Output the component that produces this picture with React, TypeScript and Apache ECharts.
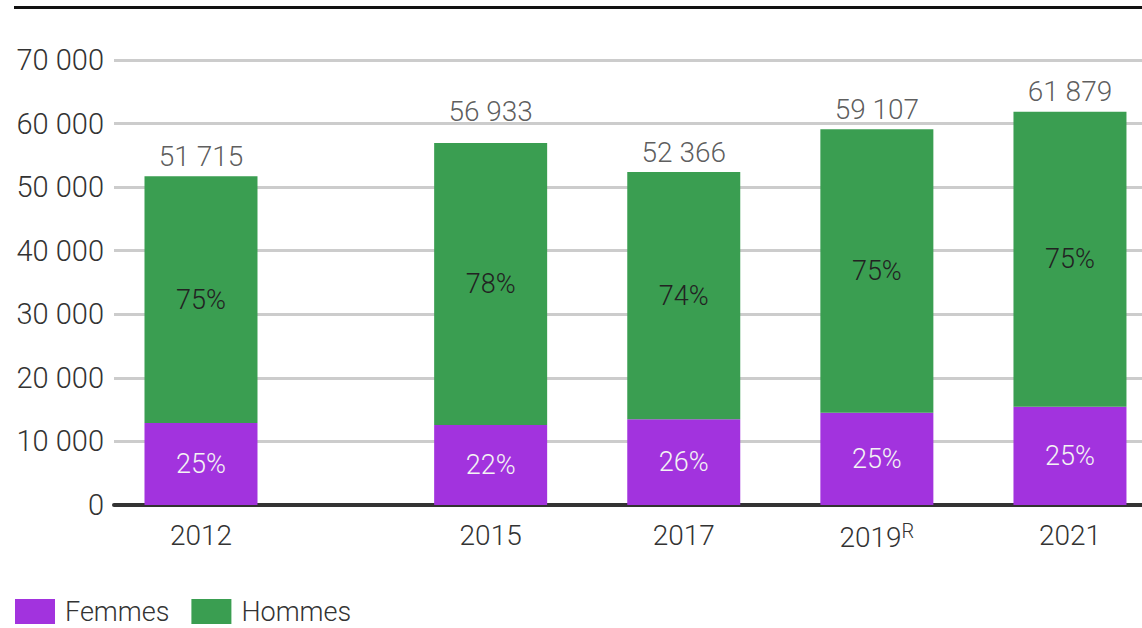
import React, { useEffect, useRef } from "react";
import * as echarts from "echarts";

const years = [2012, 2015, 2017, 2019, 2021];
const yearLabels = ["2012", "2015", "2017", "2019", "2021"];
const revisedYears = [2019];
const totals = [51715, 56933, 52366, 59107, 61879];
const femmes = [12900, 12600, 13500, 14500, 15450];
const hommes = [38815, 44333, 38866, 44607, 46429];
const femmesPct = ["25%", "22%", "26%", "25%", "25%"];
const hommesPct = ["75%", "78%", "74%", "75%", "75%"];
const yTicks = [0, 10000, 20000, 30000, 40000, 50000, 60000, 70000];

const FONT = "Roboto";
const fmt = (v: number) => String(v).replace(/\B(?=(\d{3})+(?!\d))/g, " ");
// label lifted above the gridline it would otherwise overlap (2015)
const liftedTotalIndex = 1;

export default function App() {
  const ref = useRef<HTMLDivElement>(null);
  useEffect(() => {
    if (!ref.current) return;
    const chart = echarts.init(ref.current, undefined, { renderer: "svg" });
    chart.setOption({
      animation: false,
      textStyle: { fontFamily: FONT, fontWeight: 300 },
      grid: { left: 114, right: 0, top: 60, bottom: 123, containLabel: false },
      legend: {
        left: 15,
        top: 598,
        padding: 0,
        itemWidth: 40,
        itemHeight: 25,
        itemGap: 22,
        icon: "rect",
        data: ["Femmes", "Hommes"],
        textStyle: {
          fontSize: 27,
          lineHeight: 25,
          color: "#333",
          fontFamily: FONT,
          fontWeight: 300,
          padding: [0, 0, 0, 5],
        },
      },
      graphic: [
        {
          type: "line",
          shape: { x1: 14, y1: 7.5, x2: 1142, y2: 7.5 },
          style: { stroke: "#111", lineWidth: 3 },
        },
      ],
      xAxis: {
        type: "value",
        min: 2011.099,
        max: 2021.746,
        axisLine: { show: true, onZero: false, lineStyle: { color: "#333", width: 4 } },
        axisTick: { show: false },
        splitLine: { show: false },
        axisLabel: {
          customValues: years,
          margin: 16,
          fontSize: 28,
          color: "#333",
          fontFamily: FONT,
          fontWeight: 300,
          formatter: (v: number) => {
            const i = years.indexOf(Math.round(v));
            const lbl = i >= 0 ? yearLabels[i] : "";
            return revisedYears.includes(Math.round(v)) ? `{a|${lbl}}{sup|R}` : lbl;
          },
          rich: {
            a: { fontSize: 28, color: "#333", fontFamily: FONT, fontWeight: 300 },
            sup: { fontSize: 20, color: "#333", fontFamily: FONT, fontWeight: 300, verticalAlign: "top", padding: [0, 0, 12, 0] },
          },
        },
      },
      yAxis: {
        type: "value",
        min: 0,
        max: 70000,
        interval: 10000,
        axisLine: { show: false },
        axisTick: { show: false },
        splitLine: { lineStyle: { color: "#cccccc", width: 3 } },
        axisLabel: {
          customValues: yTicks,
          margin: 10,
          fontSize: 29,
          color: "#333",
          fontFamily: FONT,
          fontWeight: 300,
          formatter: (v: number) => fmt(v),
        },
      },
      series: [
        {
          name: "Femmes",
          type: "bar",
          stack: "t",
          barWidth: 113,
          itemStyle: { color: "#a233de" },
          encode: { x: 1, y: 0 },
          data: years.map((y, i) => [femmes[i], y]),
          label: {
            show: true,
            position: "inside",
            fontSize: 27,
            color: "#f4f4f4",
            fontFamily: FONT,
            fontWeight: 300,
            formatter: (p: any) => femmesPct[p.dataIndex],
          },
        },
        {
          name: "Hommes",
          type: "bar",
          stack: "t",
          barWidth: 113,
          itemStyle: { color: "#3a9e51" },
          encode: { x: 1, y: 0 },
          data: years.map((y, i) => [hommes[i], y]),
          label: {
            show: true,
            position: "inside",
            fontSize: 27,
            color: "#222",
            fontFamily: FONT,
            fontWeight: 300,
            formatter: (p: any) => hommesPct[p.dataIndex],
          },
        },
        {
          name: "Total",
          type: "scatter",
          symbolSize: 0,
          silent: true,
          data: years.map((y, i) => [y, totals[i]]),
          label: {
            show: true,
            position: "top",
            distance: 6,
            fontSize: 28,
            color: "#333",
            fontFamily: FONT,
            fontWeight: 300,
            formatter: (p: any) => fmt(totals[p.dataIndex]),
          },
          labelLayout: (params: any) => (params.dataIndex === liftedTotalIndex ? { dy: -12 } : {}),
        },
      ],
    });
    return () => chart.dispose();
  }, []);
  return (
    <div
      ref={ref}
      style={{ position: "fixed", left: 0, top: 0, width: 1142, height: 628, background: "#fff" }}
    />
  );
}
